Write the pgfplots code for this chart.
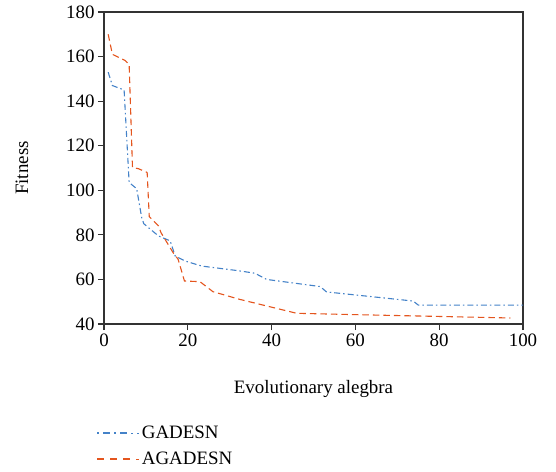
\documentclass[border=0pt]{standalone}
\usepackage{pgfplots}
\pgfplotsset{compat=1.18}
\usepackage{fontspec}
\setmainfont{Liberation Serif}
\definecolor{cblue}{RGB}{68,130,200}
\definecolor{corange}{RGB}{228,85,30}
\begin{document}
\begin{tikzpicture}[x=1bp,y=1bp]
\useasboundingbox (-104bp,-148bp) rectangle (452bp,324bp);
\begin{axis}[
  at={(0,0)}, anchor=south west,
  width=419bp, height=312bp, scale only axis,
  xmin=0, xmax=100, ymin=40, ymax=180,
  xtick={0,20,40,60,80,100}, ytick={40,60,...,180},
  axis line style={draw=black!80, line width=1.2bp},
  tick style={draw=black!80, line width=1.1bp},
  tick align=outside, major tick length=6bp,
  xtick pos=bottom, ytick pos=left,
  font=\fontsize{19}{22}\selectfont,
  /pgf/number format/assume math mode=true,
  xlabel={Evolutionary alegbra}, ylabel={Fitness},
  xlabel style={at={(axis description cs:0.5,-0.208)}, anchor=center},
  ylabel style={at={(axis description cs:-0.196,0.5)}, anchor=center},
  legend style={at={(axis description cs:-0.018,-0.32)}, anchor=north west, draw=none, fill=none,
    font=\fontsize{19}{22}\selectfont, row sep=8bp, inner sep=0bp},
  legend cell align=left,
  legend image code/.code={\draw[#1, line width=1.4bp] (0bp,0bp) -- (33bp,0bp); \path (0bp,0bp) -- (42bp,0bp);},
]
\addplot[cblue, line width=1.1bp, dash pattern=on 6bp off 3bp on 1.5bp off 3bp,
  legend image post style={dash pattern=on 2bp off 4bp on 7bp off 4bp}] coordinates {
(1,153) (2,147) (4.8,145) (6,103.5) (7.8,100.7) (9,87.7) (9.5,85) (13,79.5) (15.8,77.3) (17,70.5) (19.3,68.3) (23.3,66) (31.7,64) (36,62.8) (38.8,60) (51.6,56.8) (53.1,54.4) (73.8,50.3) (75,48.5) (100,48.5)
};
\addlegendentry{GADESN}
\addplot[corange, line width=1.1bp, dash pattern=on 6.5bp off 4bp,
  legend image post style={dash pattern=on 7bp off 6bp}] coordinates {
(1,170) (2,161) (5,158.3) (6,156.5) (6.8,110.2) (8.2,109.7) (10.3,108) (10.8,88.2) (13,84) (13.6,81) (16.5,72) (17.7,69) (19.2,59.3) (22.9,59) (26,54.5) (32.5,51) (46,44.8) (60,44.2) (97,42.7)
};
\addlegendentry{AGADESN}
\end{axis}
\end{tikzpicture}
\end{document}
